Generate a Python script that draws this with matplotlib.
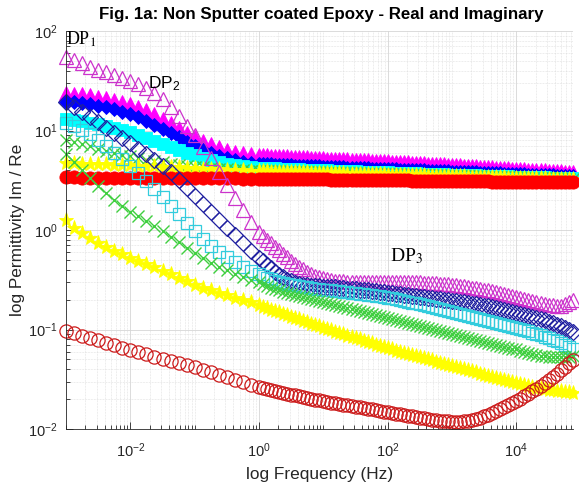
import numpy as np
import matplotlib
matplotlib.use("Agg")
import matplotlib.pyplot as plt
from matplotlib.ticker import FixedLocator, LogLocator, LogFormatterSciNotation, NullFormatter

plt.rcParams['font.family'] = ['Liberation Sans', 'DejaVu Sans']
plt.rcParams['mathtext.fontset'] = 'custom'
plt.rcParams['mathtext.rm'] = 'Liberation Sans'
plt.rcParams['mathtext.it'] = 'Liberation Sans:italic'
plt.rcParams['mathtext.bf'] = 'Liberation Sans:bold'

# ---------------- data (log10 of frequency in Hz, log10 of permittivity) ----------------
log_freq = [
    -3.0, -2.875, -2.75, -2.625, -2.5, -2.375, -2.25, -2.125, -2.0, -1.875, -1.75, -1.625,
    -1.5, -1.375, -1.25, -1.125, -1.0, -0.875, -0.75, -0.625, -0.5, -0.375, -0.25, -0.125,
    0.0, 0.0625, 0.125, 0.1875, 0.25, 0.3125, 0.375, 0.4375, 0.5, 0.5625, 0.625, 0.6875, 0.75, 0.8125, 0.875, 0.9375,
    1.0, 1.0625, 1.125, 1.1875, 1.25, 1.3125, 1.375, 1.4375, 1.5, 1.5625, 1.625, 1.6875, 1.75, 1.8125, 1.875, 1.9375,
    2.0, 2.0625, 2.125, 2.1875, 2.25, 2.3125, 2.375, 2.4375, 2.5, 2.5625, 2.625, 2.6875, 2.75, 2.8125, 2.875, 2.9375,
    3.0, 3.0625, 3.125, 3.1875, 3.25, 3.3125, 3.375, 3.4375, 3.5, 3.5625, 3.625, 3.6875, 3.75, 3.8125, 3.875, 3.9375,
    4.0, 4.0625, 4.125, 4.1875, 4.25, 4.3125, 4.375, 4.4375, 4.5, 4.5625, 4.625, 4.6875, 4.75, 4.8125, 4.875,
]

# Real parts (filled markers)
log_re_magenta = [
    1.375, 1.370, 1.362, 1.352, 1.340, 1.325, 1.308, 1.288, 1.265, 1.238, 1.205, 1.165,
    1.120, 1.072, 1.025, 0.978, 0.937, 0.897, 0.862, 0.832, 0.806, 0.786, 0.772, 0.762,
    0.755, 0.753, 0.751, 0.748, 0.746, 0.744, 0.742, 0.740, 0.738, 0.736, 0.733, 0.731, 0.729, 0.727, 0.724, 0.722,
    0.720, 0.718, 0.716, 0.714, 0.712, 0.710, 0.709, 0.707, 0.705, 0.703, 0.701, 0.699, 0.697, 0.695, 0.694, 0.692,
    0.690, 0.688, 0.686, 0.684, 0.681, 0.679, 0.677, 0.675, 0.673, 0.670, 0.668, 0.666, 0.664, 0.662, 0.659, 0.657,
    0.655, 0.653, 0.650, 0.648, 0.645, 0.643, 0.640, 0.638, 0.635, 0.633, 0.630, 0.628, 0.625, 0.623, 0.620, 0.618,
    0.615, 0.613, 0.610, 0.608, 0.605, 0.603, 0.600, 0.598, 0.595, 0.593, 0.590, 0.588, 0.585, 0.583, 0.580,
]
log_re_blue = [
    1.290, 1.285, 1.275, 1.265, 1.250, 1.235, 1.215, 1.190, 1.165, 1.135, 1.100, 1.060,
    1.020, 0.975, 0.930, 0.885, 0.845, 0.805, 0.770, 0.745, 0.720, 0.700, 0.685, 0.675,
    0.668, 0.665, 0.663, 0.660, 0.658, 0.656, 0.654, 0.652, 0.650, 0.648, 0.646, 0.645, 0.643, 0.642, 0.640, 0.639,
    0.638, 0.636, 0.634, 0.633, 0.631, 0.629, 0.628, 0.626, 0.624, 0.623, 0.621, 0.619, 0.618, 0.616, 0.615, 0.613,
    0.612, 0.610, 0.609, 0.607, 0.606, 0.604, 0.603, 0.601, 0.600, 0.598, 0.596, 0.595, 0.593, 0.592, 0.590, 0.589,
    0.587, 0.585, 0.584, 0.582, 0.581, 0.579, 0.578, 0.576, 0.575, 0.573, 0.571, 0.570, 0.568, 0.567, 0.565, 0.564,
    0.562, 0.560, 0.559, 0.557, 0.556, 0.554, 0.553, 0.551, 0.549, 0.548, 0.546, 0.545, 0.543, 0.542, 0.540,
]
log_re_cyan = [
    1.120, 1.108, 1.095, 1.080, 1.064, 1.046, 1.026, 1.004, 0.980, 0.955, 0.928, 0.899,
    0.869, 0.838, 0.807, 0.777, 0.750, 0.725, 0.705, 0.685, 0.668, 0.655, 0.643, 0.635,
    0.628, 0.626, 0.624, 0.622, 0.620, 0.618, 0.616, 0.614, 0.612, 0.610, 0.609, 0.607, 0.605, 0.604, 0.602, 0.601,
    0.600, 0.598, 0.597, 0.595, 0.594, 0.593, 0.591, 0.590, 0.589, 0.587, 0.586, 0.585, 0.583, 0.582, 0.580, 0.579,
    0.578, 0.577, 0.575, 0.574, 0.573, 0.571, 0.570, 0.569, 0.567, 0.566, 0.564, 0.563, 0.562, 0.560, 0.559, 0.557,
    0.556, 0.555, 0.554, 0.552, 0.551, 0.550, 0.549, 0.547, 0.546, 0.545, 0.544, 0.542, 0.541, 0.540, 0.539, 0.537,
    0.536, 0.535, 0.534, 0.533, 0.531, 0.530, 0.529, 0.528, 0.527, 0.526, 0.524, 0.523, 0.522, 0.521, 0.520,
]
log_re_green = [
    0.905, 0.885, 0.862, 0.840, 0.818, 0.797, 0.776, 0.757, 0.739, 0.722, 0.706, 0.692,
    0.679, 0.667, 0.656, 0.646, 0.637, 0.629, 0.622, 0.615, 0.609, 0.604, 0.599, 0.595,
    0.593, 0.592, 0.591, 0.590, 0.589, 0.588, 0.587, 0.586, 0.585, 0.584, 0.583, 0.582, 0.581, 0.580, 0.579, 0.578,
    0.577, 0.576, 0.575, 0.574, 0.573, 0.572, 0.571, 0.570, 0.569, 0.568, 0.567, 0.566, 0.565, 0.564, 0.563, 0.562,
    0.561, 0.560, 0.559, 0.558, 0.557, 0.556, 0.555, 0.554, 0.553, 0.552, 0.551, 0.550, 0.549, 0.548, 0.547, 0.546,
    0.545, 0.544, 0.543, 0.542, 0.541, 0.540, 0.539, 0.538, 0.537, 0.536, 0.535, 0.534, 0.533, 0.532, 0.531, 0.530,
    0.529, 0.528, 0.527, 0.526, 0.525, 0.524, 0.523, 0.522, 0.521, 0.520, 0.519, 0.518, 0.517, 0.516, 0.515,
]
log_re_yellow = [
    0.672, 0.670, 0.668, 0.666, 0.663, 0.660, 0.657, 0.654, 0.651, 0.648, 0.645, 0.641,
    0.638, 0.634, 0.630, 0.626, 0.622, 0.618, 0.614, 0.610, 0.606, 0.602, 0.598, 0.594,
    0.590, 0.589, 0.588, 0.587, 0.586, 0.585, 0.584, 0.583, 0.582, 0.581, 0.580, 0.579, 0.578, 0.577, 0.575, 0.574,
    0.573, 0.572, 0.571, 0.570, 0.569, 0.568, 0.567, 0.566, 0.565, 0.564, 0.563, 0.562, 0.561, 0.560, 0.559, 0.558,
    0.557, 0.556, 0.555, 0.554, 0.553, 0.552, 0.551, 0.550, 0.549, 0.548, 0.547, 0.546, 0.545, 0.544, 0.543, 0.542,
    0.541, 0.540, 0.539, 0.538, 0.537, 0.536, 0.535, 0.534, 0.533, 0.532, 0.531, 0.530, 0.529, 0.528, 0.527, 0.526,
    0.525, 0.524, 0.523, 0.522, 0.521, 0.520, 0.519, 0.518, 0.517, 0.516, 0.515, 0.514, 0.513, 0.512, 0.511,
]
log_re_red = [
    0.528, 0.528, 0.527, 0.527, 0.526, 0.526, 0.525, 0.525, 0.524, 0.524, 0.523, 0.523,
    0.522, 0.522, 0.521, 0.521, 0.520, 0.520, 0.519, 0.519, 0.518, 0.518, 0.517, 0.517,
    0.516, 0.516, 0.515, 0.515, 0.514, 0.514, 0.513, 0.513, 0.512, 0.512, 0.511, 0.511, 0.510, 0.510, 0.509, 0.509,
    0.508, 0.508, 0.507, 0.507, 0.506, 0.506, 0.505, 0.505, 0.504, 0.504, 0.503, 0.503, 0.502, 0.502, 0.501, 0.501,
    0.500, 0.500, 0.499, 0.499, 0.498, 0.498, 0.497, 0.497, 0.496, 0.496, 0.495, 0.495, 0.494, 0.494, 0.493, 0.493,
    0.492, 0.492, 0.491, 0.491, 0.490, 0.490, 0.489, 0.489, 0.488, 0.488, 0.487, 0.487, 0.486, 0.486, 0.485, 0.485,
    0.485, 0.484, 0.484, 0.484, 0.483, 0.483, 0.483, 0.482, 0.482, 0.482, 0.481, 0.481, 0.481, 0.480, 0.480,
]

# Imaginary parts (open markers)
log_im_magenta = [
    1.740, 1.708, 1.676, 1.643, 1.612, 1.585, 1.558, 1.530, 1.500, 1.467, 1.430, 1.380,
    1.320, 1.240, 1.150, 1.050, 0.950, 0.835, 0.720, 0.585, 0.450, 0.325, 0.200, 0.085,
    -0.020, -0.060, -0.100, -0.135, -0.170, -0.205, -0.240, -0.275, -0.310, -0.340, -0.370, -0.395, -0.420, -0.440, -0.458, -0.472,
    -0.485, -0.495, -0.503, -0.509, -0.513, -0.516, -0.518, -0.519, -0.520, -0.520, -0.520, -0.520, -0.520, -0.520, -0.520, -0.520,
    -0.520, -0.520, -0.521, -0.521, -0.522, -0.523, -0.524, -0.525, -0.527, -0.529, -0.531, -0.533, -0.536, -0.539, -0.542, -0.546,
    -0.550, -0.555, -0.560, -0.566, -0.572, -0.578, -0.585, -0.592, -0.600, -0.608, -0.617, -0.626, -0.635, -0.645, -0.655, -0.665,
    -0.675, -0.685, -0.695, -0.705, -0.715, -0.724, -0.733, -0.742, -0.750, -0.757, -0.763, -0.768, -0.745, -0.725, -0.705,
]
log_im_blue = [
    1.290, 1.240, 1.190, 1.137, 1.085, 1.030, 0.977, 0.923, 0.870, 0.815, 0.760, 0.705,
    0.648, 0.580, 0.505, 0.425, 0.345, 0.265, 0.185, 0.105, 0.025, -0.055, -0.135, -0.210,
    -0.280, -0.315, -0.350, -0.385, -0.418, -0.448, -0.475, -0.498, -0.517, -0.532, -0.543, -0.551, -0.557, -0.561, -0.564, -0.566,
    -0.568, -0.571, -0.574, -0.577, -0.580, -0.584, -0.588, -0.592, -0.596, -0.600, -0.604, -0.608, -0.612, -0.617, -0.621, -0.626,
    -0.630, -0.635, -0.640, -0.645, -0.650, -0.655, -0.660, -0.665, -0.670, -0.675, -0.680, -0.685, -0.690, -0.695, -0.700, -0.705,
    -0.710, -0.716, -0.722, -0.728, -0.734, -0.740, -0.746, -0.752, -0.760, -0.768, -0.776, -0.784, -0.792, -0.801, -0.810, -0.820,
    -0.830, -0.840, -0.850, -0.861, -0.872, -0.884, -0.896, -0.908, -0.920, -0.935, -0.950, -0.966, -0.984, -1.004, -1.025,
]
log_im_cyan = [
    1.075, 1.050, 1.010, 0.960, 0.900, 0.840, 0.775, 0.710, 0.640, 0.570, 0.495, 0.415,
    0.330, 0.245, 0.160, 0.075, -0.010, -0.090, -0.160, -0.220, -0.275, -0.325, -0.370, -0.410,
    -0.445, -0.465, -0.482, -0.497, -0.510, -0.521, -0.531, -0.540, -0.548, -0.556, -0.563, -0.570, -0.576, -0.582, -0.588, -0.593,
    -0.598, -0.603, -0.608, -0.613, -0.618, -0.623, -0.628, -0.633, -0.638, -0.643, -0.648, -0.653, -0.658, -0.663, -0.668, -0.674,
    -0.680, -0.688, -0.696, -0.704, -0.712, -0.720, -0.729, -0.738, -0.747, -0.756, -0.765, -0.774, -0.783, -0.792, -0.801, -0.810,
    -0.820, -0.830, -0.840, -0.850, -0.860, -0.870, -0.880, -0.890, -0.900, -0.910, -0.920, -0.930, -0.940, -0.950, -0.960, -0.970,
    -0.980, -0.993, -1.006, -1.019, -1.032, -1.046, -1.060, -1.074, -1.089, -1.104, -1.120, -1.137, -1.155, -1.175, -1.200,
]
log_im_green = [
    0.760, 0.680, 0.600, 0.525, 0.445, 0.370, 0.300, 0.240, 0.185, 0.140, 0.095, 0.040,
    -0.015, -0.070, -0.125, -0.180, -0.235, -0.285, -0.330, -0.370, -0.405, -0.440, -0.470, -0.500,
    -0.525, -0.545, -0.563, -0.579, -0.594, -0.607, -0.619, -0.630, -0.641, -0.651, -0.661, -0.671, -0.681, -0.691, -0.701, -0.711,
    -0.721, -0.731, -0.741, -0.751, -0.761, -0.771, -0.781, -0.791, -0.801, -0.811, -0.821, -0.831, -0.841, -0.851, -0.861, -0.871,
    -0.881, -0.891, -0.901, -0.911, -0.921, -0.931, -0.941, -0.951, -0.961, -0.971, -0.981, -0.991, -1.001, -1.011, -1.021, -1.031,
    -1.041, -1.051, -1.061, -1.071, -1.081, -1.091, -1.101, -1.111, -1.121, -1.131, -1.141, -1.151, -1.161, -1.171, -1.181, -1.191,
    -1.200, -1.215, -1.228, -1.240, -1.250, -1.258, -1.265, -1.270, -1.274, -1.277, -1.279, -1.280, -1.279, -1.276, -1.270,
]
log_im_yellow = [
    0.100, 0.025, -0.035, -0.085, -0.130, -0.172, -0.210, -0.245, -0.278, -0.310, -0.340, -0.375,
    -0.410, -0.445, -0.480, -0.515, -0.550, -0.580, -0.608, -0.634, -0.658, -0.681, -0.703, -0.728,
    -0.757, -0.772, -0.787, -0.801, -0.815, -0.829, -0.843, -0.857, -0.871, -0.885, -0.899, -0.913, -0.927, -0.941, -0.955, -0.969,
    -0.983, -0.996, -1.009, -1.022, -1.035, -1.048, -1.061, -1.074, -1.087, -1.100, -1.113, -1.126, -1.139, -1.152, -1.165, -1.178,
    -1.190, -1.201, -1.212, -1.223, -1.234, -1.245, -1.256, -1.267, -1.278, -1.289, -1.300, -1.311, -1.322, -1.333, -1.344, -1.355,
    -1.366, -1.377, -1.388, -1.399, -1.410, -1.421, -1.432, -1.443, -1.454, -1.465, -1.476, -1.487, -1.498, -1.509, -1.520, -1.531,
    -1.542, -1.551, -1.560, -1.569, -1.577, -1.585, -1.592, -1.599, -1.605, -1.611, -1.617, -1.622, -1.627, -1.632, -1.636,
]
log_im_red = [
    -1.015, -1.040, -1.065, -1.088, -1.110, -1.133, -1.157, -1.182, -1.207, -1.228, -1.250, -1.272,
    -1.294, -1.315, -1.337, -1.358, -1.380, -1.405, -1.430, -1.455, -1.480, -1.505, -1.530, -1.555,
    -1.580, -1.590, -1.600, -1.609, -1.618, -1.627, -1.636, -1.645, -1.654, -1.663, -1.672, -1.680, -1.688, -1.696, -1.704, -1.712,
    -1.720, -1.727, -1.734, -1.741, -1.748, -1.755, -1.762, -1.769, -1.776, -1.783, -1.790, -1.797, -1.804, -1.811, -1.818, -1.825,
    -1.832, -1.839, -1.846, -1.853, -1.860, -1.867, -1.874, -1.881, -1.888, -1.894, -1.900, -1.906, -1.911, -1.916, -1.920, -1.924,
    -1.927, -1.928, -1.927, -1.923, -1.917, -1.909, -1.899, -1.887, -1.873, -1.857, -1.840, -1.822, -1.803, -1.783, -1.762, -1.740,
    -1.718, -1.695, -1.671, -1.646, -1.620, -1.593, -1.565, -1.536, -1.506, -1.475, -1.443, -1.410, -1.376, -1.341, -1.305,
]

x_major_ticks = [1e-2, 1e0, 1e2, 1e4]
title = "Fig. 1a: Non Sputter coated Epoxy - Real and Imaginary"
x_label = "log Frequency (Hz)"
y_label = "log Permittivity Im / Re"

# ---------------- figure ----------------
freq = 10.0 ** np.array(log_freq)

fig = plt.figure(figsize=(5.79, 4.86), dpi=100)
ax = fig.add_axes([66 / 579, 57 / 486, 507 / 579, 398 / 486])
ax.set_xscale('log')
ax.set_yscale('log')

re_styles = [
    (log_re_magenta, dict(marker='^', ms=10, mfc='#ff00ff', mec='#ff00ff', mew=0.6)),
    (log_re_blue, dict(marker='D', ms=7.5, mfc='#0000ff', mec='#0000ff', mew=0.6)),
    (log_re_cyan, dict(marker='s', ms=8, mfc='#00ffff', mec='#00ffff', mew=0.6)),
    (log_re_green, dict(marker='x', ms=8, mec='#3fcf3f', mew=1.0)),
    (log_re_yellow, dict(marker='*', ms=11, mfc='#ffff00', mec='#ffff00', mew=0.6)),
    (log_re_red, dict(marker='o', ms=9.5, mfc='#ff0000', mec='#ff0000', mew=0.6)),
]
im_styles = [
    (log_im_magenta, dict(marker='^', ms=10.5, mfc='none', mec='#cc33cc', mew=0.9)),
    (log_im_blue, dict(marker='D', ms=8.5, mfc='none', mec='#1f1fa0', mew=0.9)),
    (log_im_cyan, dict(marker='s', ms=8.5, mfc='none', mec='#33ccdd', mew=0.9)),
    (log_im_green, dict(marker='x', ms=8, mec='#3fcf3f', mew=1.0)),
    (log_im_yellow, dict(marker='*', ms=11, mfc='#ffff00', mec='#ffff00', mew=0.6)),
    (log_im_red, dict(marker='o', ms=9.5, mfc='none', mec='#cc1a1a', mew=0.9)),
]
for arr, st in re_styles + im_styles:
    assert len(arr) == len(log_freq), len(arr)
    ax.plot(freq, 10.0 ** np.array(arr), linestyle='none', clip_on=False, **st)

ax.set_xlim(1e-3, 10 ** 4.88)
ax.set_ylim(1e-2, 1e2)

ax.xaxis.set_major_locator(FixedLocator(x_major_ticks))
ax.xaxis.set_major_formatter(LogFormatterSciNotation())
ax.xaxis.set_minor_locator(LogLocator(base=10, subs=np.arange(1, 10), numticks=100))
ax.xaxis.set_minor_formatter(NullFormatter())
ax.yaxis.set_major_locator(LogLocator(base=10, numticks=20))
ax.yaxis.set_major_formatter(LogFormatterSciNotation())
ax.yaxis.set_minor_locator(LogLocator(base=10, subs=np.arange(2, 10), numticks=100))
ax.yaxis.set_minor_formatter(NullFormatter())

ax.set_axisbelow(True)
ax.grid(True, which='major', color='#d6d6d6', lw=0.6)
ax.grid(True, which='minor', color='#dadada', lw=0.5, ls=(0, (1, 1.2)))

for s in ('top', 'right'):
    ax.spines[s].set_visible(False)
for s in ('left', 'bottom'):
    ax.spines[s].set_color('#262626')
    ax.spines[s].set_linewidth(0.6)
ax.tick_params(which='both', direction='in', color='#262626', width=0.6, top=False, right=False,
               labelsize=10.5, labelcolor='#262626')
ax.tick_params(which='major', length=5)
ax.tick_params(axis='x', which='major', pad=9)
ax.tick_params(axis='y', which='major', pad=6)
ax.tick_params(which='minor', length=3)

fig.text(321 / 579, 1 - 14 / 486, title, ha='center', va='center', fontsize=12.2, fontweight='bold')
fig.text(320 / 579, 1 - 474 / 486, x_label, ha='center', va='center', fontsize=12.4, color='#262626')
fig.text(18 / 579, 1 - 230 / 486, y_label, ha='center', va='center', rotation=90, fontsize=12.4, color='#262626')

ax.text(0.0, 0.967, "DP$_1$", transform=ax.transAxes, fontsize=13, family='Liberation Serif',
        math_fontfamily='stix', ha='left', va='baseline')
ax.text(0.162, 0.857, "DP$_2$", transform=ax.transAxes, fontsize=12.5, family='Liberation Sans',
        ha='left', va='baseline')
ax.text(0.639, 0.422, "DP$_3$", transform=ax.transAxes, fontsize=14, family='Liberation Serif',
        math_fontfamily='stix', ha='left', va='baseline')

fig.savefig("out.png", dpi=100)
